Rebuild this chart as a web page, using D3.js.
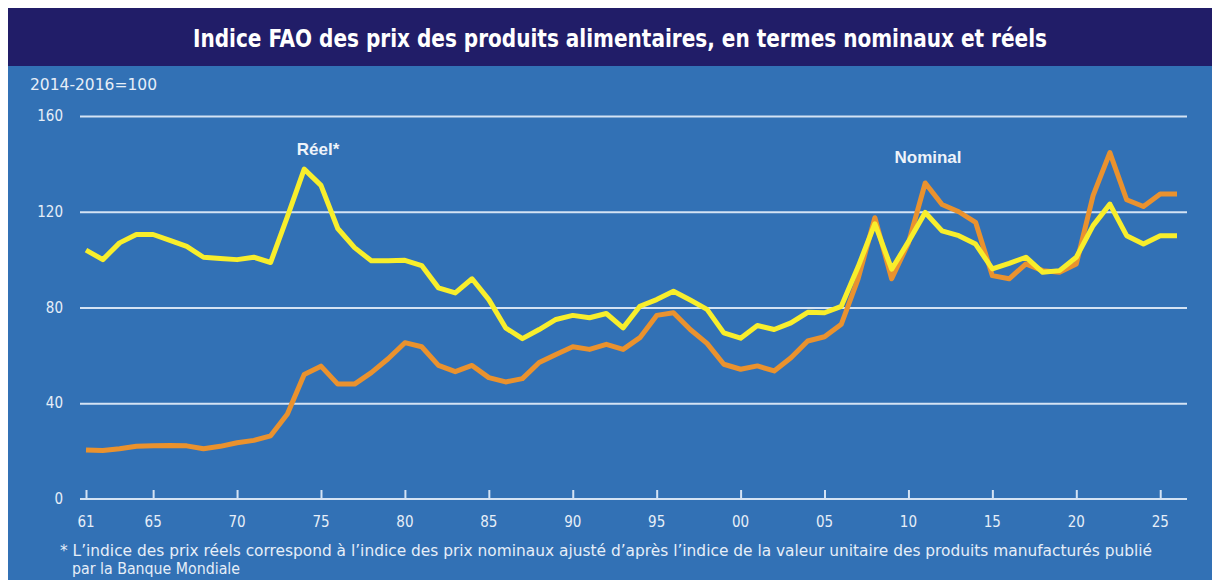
<!DOCTYPE html>
<html>
<head>
<meta charset="utf-8">
<script src="https://cdn.jsdelivr.net/npm/d3@7"></script>
<style>
  html, body { margin: 0; padding: 0; background: #ffffff; }
  #chart { width: 1212px; height: 580px; }
</style>
</head>
<body>
<div id="chart"></div>
<script>
// Années 1961 à 2026
const years = d3.range(1961, 2027);

// Indice nominal (orange)
const nominal = [
  20.5, 20.3, 21, 22, 22.2, 22.3, 22.2, 21, 22, 23.5,
  24.5, 26.4, 35.5, 52, 55.5, 48, 48, 52.8, 58.6, 65.3,
  63.6, 55.8, 53.2, 55.8, 50.7, 48.9, 50.3, 57, 60.4, 63.6,
  62.5, 64.6, 62.5, 67.4, 76.7, 77.8, 70.8, 65, 56.3, 54.2,
  55.6, 53.5, 59, 66, 67.8, 73, 92, 117.5, 92, 107,
  132, 123, 120, 115.6, 93.3, 92, 98.2, 95.4, 94.7, 98.2,
  126.7, 144.7, 125, 122.2, 127.4, 127.4
];

// Indice réel (jaune)
const real = [
  104, 100, 107, 110.5, 110.5, 108, 105.5, 101, 100.5, 100,
  101, 98.8, 118, 137.8, 131, 113, 105, 99.5, 99.5, 99.7,
  97.5, 88.2, 86.1, 92, 83.3, 71.5, 67, 70.8, 75, 76.7,
  75.7, 77.5, 71.5, 80.5, 83.3, 86.8, 83.1, 79.2, 69.4, 67.2,
  72.5, 70.8, 73.6, 78, 77.8, 80.5, 97, 115, 96, 107.5,
  119.7, 112, 110, 106.5, 96.1, 98.4, 101, 94.7, 95.4, 101,
  114.2, 123.2, 110, 106.5, 110, 110
];

const xTicks = [1961, 1965, 1970, 1975, 1980, 1985, 1990, 1995, 2000, 2005, 2010, 2015, 2020, 2025];
const yTicks = [0, 40, 80, 120, 160];

const width = 1212;
const height = 580;

const svg = d3.select("#chart").append("svg")
  .attr("width", width)
  .attr("height", height)
  .attr("viewBox", [0, 0, width, height]);

const condensed = "'DejaVu Sans Condensed', 'Liberation Sans Narrow', 'Roboto', sans-serif";

// Fond du panneau
svg.append("rect")
  .attr("x", 8).attr("y", 8)
  .attr("width", width - 8).attr("height", height - 8)
  .attr("fill", "#3271b5");

// Bandeau du titre
svg.append("rect")
  .attr("x", 8).attr("y", 8)
  .attr("width", width - 8).attr("height", 58)
  .attr("fill", "#211d68");

svg.append("text")
  .attr("x", 620).attr("y", 47)
  .attr("text-anchor", "middle")
  .attr("fill", "#ffffff")
  .attr("textLength", 854)
  .attr("lengthAdjust", "spacingAndGlyphs")
  .style("font-family", condensed)
  .style("font-weight", "bold")
  .style("font-size", "24px")
  .text("Indice FAO des prix des produits alimentaires, en termes nominaux et réels");

svg.append("text")
  .attr("x", 30).attr("y", 90)
  .attr("fill", "#e6eef8")
  .attr("textLength", 127)
  .attr("lengthAdjust", "spacingAndGlyphs")
  .style("font-family", condensed)
  .style("font-size", "15px")
  .text("2014-2016=100");

// Échelles
const x = d3.scaleLinear()
  .domain([1961, 2026])
  .range([86, 1177]);

const y = d3.scaleLinear()
  .domain([0, 160])
  .range([499, 116]);

// Grille horizontale
svg.append("g")
  .attr("transform", "translate(80,0)")
  .call(d3.axisLeft(y).tickValues(yTicks.filter(d => d > 0)).tickSize(-1107).tickFormat(""))
  .call(g => g.select(".domain").remove())
  .call(g => g.selectAll(".tick line")
    .attr("stroke", "#d4e3f4")
    .attr("stroke-width", 2));

// Étiquettes de l'axe Y
svg.append("g")
  .selectAll("text")
  .data(yTicks)
  .join("text")
  .attr("x", 63)
  .attr("y", d => y(d) + 5)
  .attr("text-anchor", "end")
  .attr("fill", "#e6eef8")
  .style("font-family", condensed)
  .style("font-size", "15px")
  .text(d => d);

// Axe X
svg.append("g")
  .attr("transform", `translate(0,${y(0)})`)
  .call(d3.axisTop(x).tickValues(xTicks).tickSize(9).tickFormat(""))
  .call(g => g.select(".domain")
    .attr("d", "M80,0H1187")
    .attr("stroke", "#d4e3f4")
    .attr("stroke-width", 2))
  .call(g => g.selectAll(".tick line")
    .attr("stroke", "#d4e3f4")
    .attr("stroke-width", 2));

svg.append("g")
  .selectAll("text")
  .data(xTicks)
  .join("text")
  .attr("x", d => x(d))
  .attr("y", 527)
  .attr("text-anchor", "middle")
  .attr("fill", "#e6eef8")
  .style("font-family", condensed)
  .style("font-size", "15px")
  .text(d => String(d % 100).padStart(2, "0"));

// Lignes
const line = d3.line()
  .x((d, i) => x(years[i]))
  .y(d => y(d))
  .curve(d3.curveLinear);

svg.append("path")
  .attr("d", line(nominal))
  .attr("fill", "none")
  .attr("stroke", "#ea922e")
  .attr("stroke-width", 5)
  .attr("stroke-linejoin", "round");

svg.append("path")
  .attr("d", line(real))
  .attr("fill", "none")
  .attr("stroke", "#f8ee2c")
  .attr("stroke-width", 5)
  .attr("stroke-linejoin", "round");

// Étiquettes des séries
svg.append("text")
  .attr("x", 318).attr("y", 155)
  .attr("text-anchor", "middle")
  .attr("fill", "#eef3fa")
  .style("font-family", "'Liberation Sans', 'DejaVu Sans', sans-serif")
  .style("font-weight", "bold")
  .style("font-size", "17px")
  .text("Réel*");

svg.append("text")
  .attr("x", 928).attr("y", 163)
  .attr("text-anchor", "middle")
  .attr("fill", "#eef3fa")
  .style("font-family", "'Liberation Sans', 'DejaVu Sans', sans-serif")
  .style("font-weight", "bold")
  .style("font-size", "17px")
  .text("Nominal");

// Note de bas de page
svg.append("text")
  .attr("x", 60).attr("y", 556)
  .attr("fill", "#e6eef8")
  .attr("textLength", 1092)
  .attr("lengthAdjust", "spacingAndGlyphs")
  .style("font-family", condensed)
  .style("font-size", "15px")
  .text("* L’indice des prix réels correspond à l’indice des prix nominaux ajusté d’après l’indice de la valeur unitaire des produits  manufacturés publié");

svg.append("text")
  .attr("x", 72).attr("y", 574)
  .attr("fill", "#e6eef8")
  .attr("textLength", 168)
  .attr("lengthAdjust", "spacingAndGlyphs")
  .style("font-family", condensed)
  .style("font-size", "15px")
  .text("par la Banque Mondiale");
</script>
</body>
</html>
